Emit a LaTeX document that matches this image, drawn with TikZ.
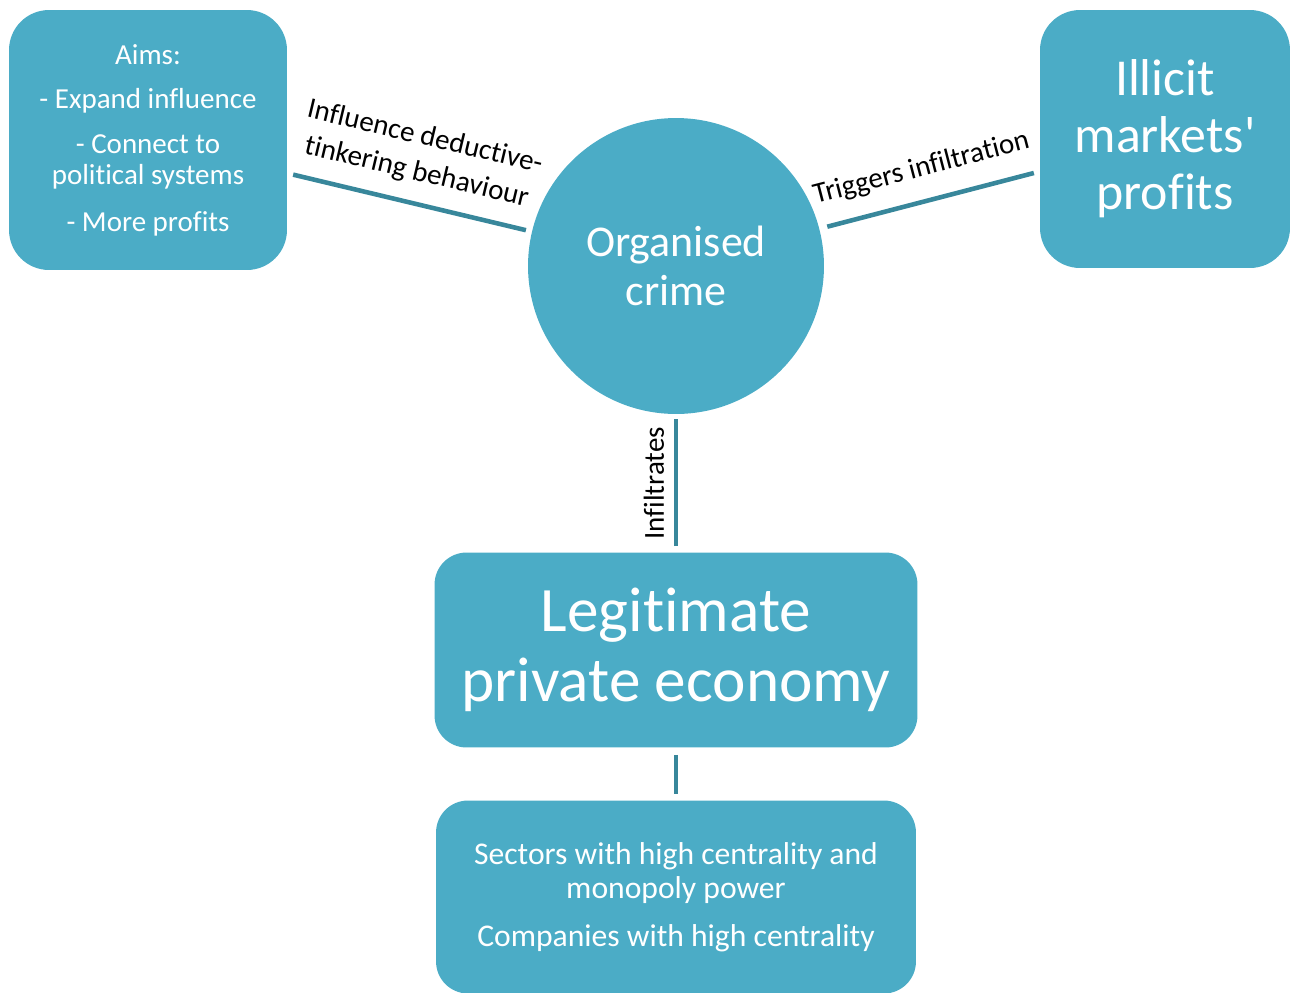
\documentclass[tikz,border=0pt]{standalone}
\usepackage{fontspec}
\setmainfont{Carlito}[Ligatures={NoCommon}]
\usepackage{tikz}
\usetikzlibrary{shapes}
\definecolor{boxblue}{RGB}{75,172,198}
\definecolor{linkblue}{RGB}{56,135,155}
\newcommand{\linkw}{2.6pt}
\newcommand{\gapa}{0.12cm}

\begin{document}
\begin{tikzpicture}[x=0.02cm,y=-0.02cm]
            \tikzset{box/.style = {fill=boxblue, text=white, rounded corners=0.8cm, align=center, inner sep=0pt},
                     hub/.style = {circle, fill=boxblue, text=white, align=center, minimum size=5.92cm, inner sep=0pt},
                     link/.style = {draw=linkblue, line width=\linkw},
                     linklabel/.style = {sloped, align=center, inner sep=0pt, text=black, font=\fontsize{16.5}{20.5}\selectfont}}
            \useasboundingbox (0,0) rectangle (1296,992);
            % the circle in the middle
            \node[hub, font=\fontsize{25}{27.5}\selectfont] (crime) at (676,266) {Organised\\crime};
            % the boxes round it
            \node[box, minimum width=5.56cm, minimum height=5.2cm, font=\fontsize{16.5}{17.5}\selectfont] (aims) at (148,140)
                {Aims:\\[8pt]- Expand influence\\[8pt]- Connect to\\political systems\\[9pt]- More profits};
            \node[box, minimum width=5cm, minimum height=5.16cm, font=\fontsize{29.5}{32.5}\selectfont] (illicit) at (1165,139)
                {Illicit\\markets\textquotesingle\\profits};
            \node[box, rounded corners=0.64cm, minimum width=9.66cm, minimum height=3.9cm, font=\fontsize{36}{40}\selectfont] (legit) at (676,650)
                {Legitimate\\private economy};
            \node[box, rounded corners=0.64cm, minimum width=9.6cm, minimum height=3.86cm, font=\fontsize{18}{19.5}\selectfont] (sectors) at (676,897)
                {Sectors with high centrality and\\monopoly power\\[7.5pt]Companies with high centrality};
            % connectors
            \draw[link, shorten <=\gapa, shorten >=\gapa] (aims) -- (crime)
                node[linklabel, midway, above=9pt] {Influence deductive-\\tinkering behaviour};
            \draw[link, shorten <=0.16cm, shorten >=\gapa] (crime) -- (illicit)
                node[linklabel, midway, above=10pt] {Triggers infiltration};
            \draw[link, shorten <=\gapa, shorten >=0.1cm] (legit) -- (crime)
                node[linklabel, midway, above=5.5pt] {Infiltrates};
            \draw[link, shorten <=0.14cm, shorten >=\gapa] (legit) -- (sectors);
\end{tikzpicture}
\end{document}
